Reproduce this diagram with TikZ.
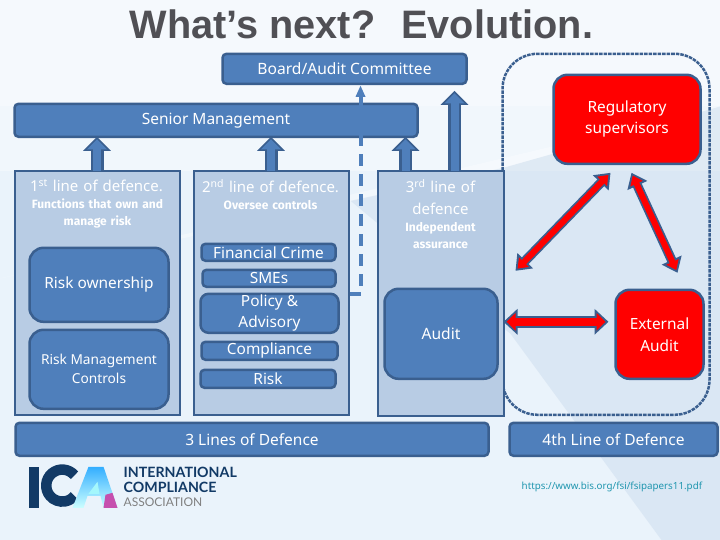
\documentclass[tikz,border=0pt]{standalone}
\usepackage{fontspec}
\setmainfont{Noto Sans}
\newfontfamily\titlefont{Liberation Sans}
\newfontfamily\logofont{Lato}
\newfontfamily\subfont{Fira Sans}
\usetikzlibrary{arrows.meta,calc}
\definecolor{edgeblue}{HTML}{3A5F8F}
\definecolor{fillblue}{HTML}{4F7FBB}
\definecolor{colblue}{HTML}{B8CCE4}
\definecolor{pagebg}{HTML}{EAF3FB}
\definecolor{logonavy}{HTML}{123A66}
\tikzset{
  x=1pt,y=-1pt,
  box/.style={draw=edgeblue,line width=2.5pt,fill=fillblue,rounded corners=#1,text=white,align=center,inner sep=0pt,outer sep=0pt,anchor=north west},
  box/.default=4pt,
  colbox/.style={draw=edgeblue,line width=2pt,fill=colblue,anchor=north west,inner sep=0pt,outer sep=0pt},
  redbox/.style={draw=edgeblue,line width=2.5pt,fill=red,rounded corners=14pt,text=white,align=center,inner sep=0pt,outer sep=0pt,anchor=north west},
  head/.style={text=white,align=center,font=\fontsize{15}{22}\selectfont,text width=#1},
  sub/.style={text=white,align=center,font=\subfont\fontsize{12}{17}\selectfont\bfseries,text width=#1},
  blockup/.style={draw=edgeblue,line width=13pt,-{Triangle[length=14pt,width=27pt]},
    postaction={draw=fillblue,line width=8pt,-{Triangle[length=10pt,width=19pt]},shorten >=2.5pt,shorten <=0pt}},
  redarrow/.style={draw=edgeblue,line width=#1+3.5pt,{Triangle[length=14pt,width=#1*2+9pt]}-{Triangle[length=14pt,width=#1*2+9pt]},
    postaction={draw=red,line width=#1,{Triangle[length=9pt,width=#1*2+1pt]}-{Triangle[length=9pt,width=#1*2+1pt]},shorten >=3pt,shorten <=3pt}},
}
\begin{document}
\begin{tikzpicture}
\useasboundingbox (-0.5,-0.8) rectangle (719.5,539.2);
% background
\fill [pagebg] (-2,-2) rectangle (722,542);
\fill [white,opacity=.35] (-2,-2) rectangle (722,105) -- (503,167) -- (-2,278) -- cycle;
\fill [white,opacity=.35] (-2,-2) rectangle (722,170);
\fill [colblue,opacity=.3] (722,105) -- (503,167) -- (350,200) -- (510,333) -- (663,542) -- (722,542) -- cycle;
% title
\node (title) at (361,24) {\titlefont\fontsize{39.7}{42}\selectfont\bfseries\color[HTML]{505055}What’s next?~ Evolution.};
% outer dashed frame
\node (fourth) [draw=edgeblue,line width=2.5pt,dash pattern=on 3.5pt off 1pt,rounded corners=35pt,outer sep=0pt,inner sep=0pt,anchor=north west,minimum width=207pt,minimum height=361pt] at (502,53) {};
% top boxes
\node (board) [box,minimum width=244pt,minimum height=30pt] at (222,53) {\fontsize{15.6}{17}\selectfont Board/Audit Committee};
\node (senior) [box,minimum width=403pt,minimum height=33pt] at (14,103) {\fontsize{15.5}{17}\selectfont Senior Management};
% dashed reporting line
\coordinate (stub) at (348,293);
\coordinate (bend) at (360,293);
\coordinate (boardtip) at (360,85);
\draw [fillblue,line width=4pt,dash pattern=on 12pt off 8pt] (stub) -- (bend) -- (360,96);
\fill [fillblue] (boardtip) -- (365,96) -- (355,96) -- cycle;
% columns
\node (col1) [colbox,minimum width=165pt,minimum height=244pt] at (14,170) {};
\node (col2) [colbox,minimum width=155pt,minimum height=244pt] at (193,170) {};
\node (col3) [colbox,minimum width=126pt,minimum height=245pt] at (377,170) {};
% column headings
\node (head1) [head=165pt] at (96,185) {1\textsuperscript{st} line of defence.};
\node (sub1) [sub=160pt] at (97,213) {Functions that own and\\manage risk};
\node (head2) [head=155pt] at (270,185) {2\textsuperscript{nd} line of defence.};
\node (sub2) [sub=150pt] at (270,204) {Oversee controls};
\node (head3) [head=120pt] at (440,196) {3\textsuperscript{rd} line of\\defence};
\node (sub3) [sub=120pt] at (440,235) {Independent\\assurance};
% first line
\node (riskown) [box=14pt,minimum width=139pt,minimum height=74pt,font=\fontsize{15.4}{17}\selectfont] at (29,247) {Risk ownership};
\node (riskctl) [box=14pt,minimum width=139pt,minimum height=79pt,font=\fontsize{13.7}{19}\selectfont] at (29,329) {Risk Management\\Controls};
% second line
\node (fincrime) [box,minimum width=134pt,minimum height=17pt,font=\fontsize{15.4}{17}\selectfont] at (201,243) {Financial Crime};
\node (smes) [box,minimum width=133pt,minimum height=17pt,font=\fontsize{15.4}{17}\selectfont] at (202,269) {SMEs};
\node (policy) [box=8pt,minimum width=138pt,minimum height=39pt,font=\fontsize{15.4}{21}\selectfont] at (200,293) {Policy \&\\Advisory};
\node (compl) [box,minimum width=136pt,minimum height=18pt,font=\fontsize{15.4}{17}\selectfont] at (201,341) {Compliance};
\node (risk) [box,minimum width=135pt,minimum height=18pt,font=\fontsize{15.4}{17}\selectfont] at (200,369) {Risk};
% third line and external
\node (audit) [box=14pt,minimum width=113pt,minimum height=90pt,font=\fontsize{15.6}{17}\selectfont] at (384,288) {Audit};
\node (regul) [redbox,minimum width=147pt,minimum height=89pt,font=\fontsize{15.4}{21}\selectfont] at (553,74) {Regulatory\\supervisors};
\node (external) [redbox,minimum width=88pt,minimum height=89pt,font=\fontsize{15.4}{22}\selectfont] at (615,289) {External\\Audit};
% bottom bars
\node (lines) [box,minimum width=473pt,minimum height=33pt,font=\fontsize{15.5}{17}\selectfont] at (15,422) {3 Lines of Defence};
\node (line4) [box,minimum width=208pt,minimum height=33pt,font=\fontsize{15.6}{17}\selectfont] at (509,422) {4th Line of Defence};
% block arrows
\coordinate (col3a) at (405,170);
\coordinate (col3b) at (454,170);
\coordinate (tip3b) at (454,90);
\draw [blockup] (col1.north) -- (col1.north |- senior.south);
\draw [blockup] (col2.north) -- (col2.north |- senior.south);
\draw [blockup] (col3a) -- (col3a |- senior.south);
\draw [blockup] (col3b) -- (tip3b);
% red arrows
\coordinate (d1a) at (515,270);
\coordinate (d1b) at (610,172);
\coordinate (d2a) at (631,172);
\coordinate (d2b) at (677,272);
\coordinate (h1a) at (503,321);
\coordinate (h1b) at (608,321);
\draw [redarrow=6pt] (d1a) -- (d1b);
\draw [redarrow=6pt] (d2a) -- (d2b);
\draw [redarrow=8pt] (h1a) -- (h1b);
% logo
\fill [logonavy] (28,466) rectangle (38,507);
\draw [logonavy,line width=10.5pt] (74,474.5) arc [start angle=-40,delta angle=-280,radius=16];
\shade [top color=cyan!60!blue!80,bottom color=cyan!20] (72,507) -- (88,466) -- (103,466) -- (117,507) -- (103,507) -- (100,495) -- (87,495) -- (83,507) -- cycle;
\fill [pagebg!70!cyan] (88,493) -- (97,481) -- (99,493) -- cycle;
\fill [magenta!70!blue!70] (105,494) -- (112,492) -- (117,507) -- (103,507) -- cycle;
\node (logo1) [anchor=west,inner sep=0pt,text=logonavy] at (123,472) {\logofont\bfseries\fontsize{14.2}{15}\selectfont INTERNATIONAL};
\node (logo2) [anchor=west,inner sep=0pt,text=logonavy] at (123,487) {\logofont\bfseries\fontsize{14.2}{15}\selectfont COMPLIANCE};
\node (logo3) [anchor=west,inner sep=0pt,text=gray] at (123,501) {\logofont\fontsize{12}{14}\selectfont ASSOCIATION};
% source
\node (source) [anchor=west,inner sep=0pt,text={rgb,255:red,32;green,150;blue,175}] at (521,486) {\fontsize{9.8}{11}\selectfont https://www.bis.org/fsi/fsipapers11.pdf};
\end{tikzpicture}
\end{document}
